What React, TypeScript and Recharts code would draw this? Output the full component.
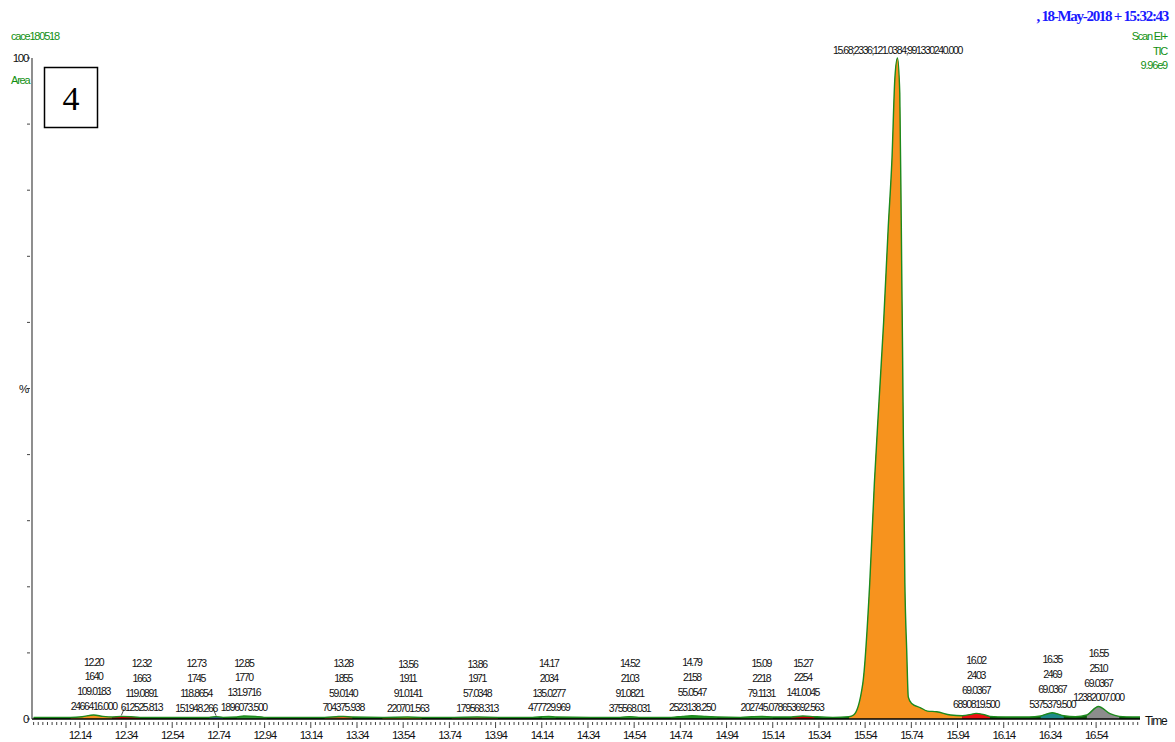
import { Area, ComposedChart, Line, Scatter, XAxis, YAxis } from "recharts";

// TIC trace: retention time (min) against relative abundance (%)
const times = [
  11.94, 12.0, 12.1, 12.15, 12.2, 12.24, 12.28, 12.32, 12.36, 12.4, 12.5, 12.6, 12.7, 12.73, 12.76,
  12.82, 12.85, 12.9, 12.95, 13.05, 13.2, 13.25, 13.28, 13.32, 13.45, 13.56, 13.62, 13.75, 13.86,
  13.95, 14.1, 14.14, 14.17, 14.2, 14.35, 14.48, 14.52, 14.56, 14.7, 14.75, 14.79, 14.85, 14.9, 15.0,
  15.05, 15.09, 15.14, 15.22, 15.27, 15.32, 15.4, 15.47, 15.49, 15.53, 15.56, 15.58, 15.6, 15.62,
  15.64, 15.656, 15.669, 15.68, 15.69, 15.698, 15.702, 15.712, 15.72, 15.727, 15.74, 15.78, 15.81,
  15.85, 15.91, 15.96, 16.0, 16.02, 16.05, 16.08, 16.15, 16.25, 16.3, 16.35, 16.4, 16.45, 16.5,
  16.55, 16.6, 16.64, 16.7, 16.73,
];
const tic = [
  0.25, 0.25, 0.25, 0.35, 0.6, 0.4, 0.3, 0.4, 0.35, 0.25, 0.25, 0.25, 0.25, 0.35, 0.25,
  0.3, 0.45, 0.4, 0.25, 0.25, 0.25, 0.35, 0.4, 0.3, 0.25, 0.3, 0.25, 0.25, 0.3,
  0.25, 0.25, 0.35, 0.4, 0.3, 0.25, 0.25, 0.35, 0.25, 0.25, 0.4, 0.5, 0.4, 0.3, 0.25,
  0.35, 0.4, 0.3, 0.3, 0.45, 0.35, 0.25, 0.35, 0.6, 5.4, 20.6, 35.7, 48, 60,
  74.4, 84.6, 97.1, 100, 94.7, 69.4, 55.9, 20.6, 10.4, 3.3, 2.4, 1.7, 1.2,
  1.1, 0.6, 0.5, 0.7, 0.85, 0.7, 0.4, 0.3, 0.3, 0.45, 0.95, 0.5, 0.35, 0.6,
  1.9, 0.8, 0.4, 0.3, 0.3,
];

// integrated peaks: apex time, scan, base peak m/z, area
const peakRt = [12.2, 12.32, 12.73, 12.85, 13.28, 13.56, 13.86, 14.17, 14.52, 14.79, 15.09, 15.27, 15.68, 16.02, 16.35, 16.55];
const peakScan = [1640, 1663, 1745, 1770, 1855, 1911, 1971, 2034, 2103, 2158, 2218, 2254, 2336, 2403, 2469, 2510];
const peakMass = [
  "109.0183", "119.0891", "118.8654", "131.9716", "59.0140", "91.0141", "57.0348", "135.0277",
  "91.0821", "55.0547", "79.1131", "141.0045", "121.0384", "69.0367", "69.0367", "69.0367",
];
const peakArea = [
  "2466416.000", "612525.813", "151948.266", "1896073.500", "704375.938", "220701.563", "179568.313",
  "477729.969", "375568.031", "2523138.250", "202745.078", "653692.563", "991330240.000",
  "6890819.500", "5375379.500", "12382007.000",
];
// integration limits
const peakStart = [12.1, 12.28, 12.7, 12.82, 13.2, 13.45, 13.75, 14.14, 14.48, 14.7, 15.0, 15.22, 15.47, 15.96, 16.3, 16.5];
const peakEnd = [12.28, 12.4, 12.76, 12.95, 13.32, 13.62, 13.95, 14.2, 14.56, 14.9, 15.14, 15.32, 15.96, 16.08, 16.4, 16.64];

const peakFill = [
  "#f7931e", "#c80000", "#3050c0", "#2f9a2f", "#d9641e", "#d8c000", "#b08040", "#2f9a2f",
  "#2f9a2f", "#1f8f1f", "#2f9a2f", "#c80000", "#f7931e", "#ee1010", "#1f8a8a", "#8c8c8c",
];
// label blocks pushed sideways (px) where they would collide, with a leader line
const labelNudge: Record<number, number> = { 1: 20, 2: -20 };

const FONT = "'Liberation Sans', Arial, sans-serif";
const GREEN = "#119011";

const rows = times.map((t, i) => ({ t, tic: tic[i] }));
const apexOf = (rt: number) =>
  rows.reduce((best, r) => (Math.abs(r.t - rt) < Math.abs(best.t - rt) ? r : best), rows[0]).tic;
const peakRows = peakRt.map((rt, i) => ({ t: rt, v: apexOf(rt), i }));

// 0.02 min minor ticks, labelled every 0.2 min starting at 12.14
const xTicks: number[] = [];
for (let n = 597; n <= 836; n++) xTicks.push(n / 50);
const isMajor = (v: number) => {
  const n = Math.round(v * 50);
  return n >= 607 && (n - 607) % 10 === 0;
};

const XTick = ({ x, y, payload }: any) => {
  const major = isMajor(payload.value);
  return (
    <g>
      <line x1={x} x2={x} y1={y + 1} y2={y + (major ? 7 : 4)} stroke="#444" strokeWidth={1} />
      {major && (
        <text x={x} y={y + 14} textAnchor="middle" dominantBaseline="central" fontSize={11.5}
          fontFamily={FONT} letterSpacing={-1.3} fill="#111">
          {payload.value.toFixed(2)}
        </text>
      )}
    </g>
  );
};

const yText: Record<number, string> = { 0: "0", 50: "%", 100: "100" };
const YTick = ({ x, y, payload }: any) => (
  <g>
    <line x1={x - 3} x2={x} y1={y} y2={y} stroke="#444" strokeWidth={1} />
    {yText[payload.value] && (
      <text x={x - 2} y={y} textAnchor="end" dominantBaseline="central" fontSize={11.5}
        fontFamily={FONT} letterSpacing={-1.3} fill="#111">
        {yText[payload.value]}
      </text>
    )}
  </g>
);

const PeakLabel = ({ cx, cy, payload }: any) => {
  const i = payload.i;
  const txt = { fontSize: 10.5, fontFamily: FONT, letterSpacing: -1.4, fill: "#111" };
  if (peakRt[i] === 15.68) {
    const line = [peakRt[i].toFixed(2), peakScan[i], peakMass[i], peakArea[i]].join(";");
    return (
      <text x={cx} y={cy - 8} textAnchor="middle" dominantBaseline="central" {...txt}>
        {line}
      </text>
    );
  }
  const nudge = labelNudge[i] ?? 0;
  const lx = cx + nudge;
  const lines = [peakRt[i].toFixed(2), String(peakScan[i]), peakMass[i], peakArea[i]];
  return (
    <g>
      {nudge !== 0 && (
        <line x1={cx + Math.sign(nudge) * 3} y1={cy - 8} x2={cx} y2={cy - 1} stroke="#222" strokeWidth={0.8} />
      )}
      {lines.map((s, k) => (
        <text key={k} x={lx} y={cy - 9 - (3 - k) * 14.8} textAnchor="middle" dominantBaseline="central" {...txt}>
          {s}
        </text>
      ))}
    </g>
  );
};

export default function App() {
  return (
    <div style={{ position: "absolute", left: 0, top: 0, width: 1175, height: 742, background: "#fff" }}>
      <ComposedChart width={1175} height={742} data={rows}
        margin={{ top: 58, right: 35, bottom: 3, left: 0 }}>
        <XAxis dataKey="t" type="number" domain={[11.933, 16.73]} allowDataOverflow ticks={xTicks}
          interval={0} tickSize={0} tickLine={false} tick={<XTick />} height={20}
          axisLine={{ stroke: "#000", strokeWidth: 1.5 }} />
        <YAxis type="number" domain={[0, 100]} ticks={[0, 10, 20, 30, 40, 50, 60, 70, 80, 90, 100]}
          interval={0} width={32} tickSize={0} tickLine={false} tick={<YTick />}
          axisLine={{ stroke: "#444", strokeWidth: 1.2 }} />
        <Area dataKey="tic" type="monotone" baseValue={0} fill="#0d5a0d" fillOpacity={1} stroke="none"
          isAnimationActive={false} />
        {peakRt.map((rt, i) => (
          <Area key={rt} name={`peak ${rt}`} type="monotone" baseValue={0} connectNulls={false}
            dataKey={(d: any) => (d.t >= peakStart[i] - 1e-9 && d.t <= peakEnd[i] + 1e-9 ? d.tic : null)}
            fill={peakFill[i]} fillOpacity={1} stroke="none" isAnimationActive={false} />
        ))}
        <Line dataKey="tic" type="monotone" stroke="#1d8a1d" strokeWidth={1.4} dot={false}
          isAnimationActive={false} />
        <Scatter data={peakRows} dataKey="v" shape={<PeakLabel />} isAnimationActive={false} />
      </ComposedChart>

      <svg width={1175} height={742} style={{ position: "absolute", left: 0, top: 0, pointerEvents: "none" }}>
        <text x={1168} y={16} textAnchor="end" dominantBaseline="central" fontSize={15} fontWeight="bold"
          fontFamily="'Liberation Serif', 'Times New Roman', serif" letterSpacing={-1.3} fill="#1a1aff">
          , 18-May-2018 + 15:32:43
        </text>
        <text x={11} y={36} dominantBaseline="central" fontSize={11} fontFamily={FONT} letterSpacing={-1.2} fill={GREEN}>
          cace180518
        </text>
        <text x={11} y={80} dominantBaseline="central" fontSize={11} fontFamily={FONT} letterSpacing={-1.2} fill={GREEN}>
          Area
        </text>
        {["Scan EI+", "TIC", "9.96e9"].map((s, k) => (
          <text key={s} x={1167} y={36 + k * 14.5} textAnchor="end" dominantBaseline="central" fontSize={11}
            fontFamily={FONT} letterSpacing={-1.2} fill={GREEN}>
            {s}
          </text>
        ))}
        <text x={1145} y={721} dominantBaseline="central" fontSize={12} fontFamily={FONT} letterSpacing={-1.2} fill="#111">
          Time
        </text>
        <rect x={44.5} y={67.5} width={53} height={60} fill="#fff" stroke="#000" strokeWidth={1.5} />
        <text x={71} y={98} textAnchor="middle" dominantBaseline="central" fontSize={34}
          fontFamily="'Liberation Serif', 'Times New Roman', serif" fill="#000">
          4
        </text>
      </svg>
    </div>
  );
}
